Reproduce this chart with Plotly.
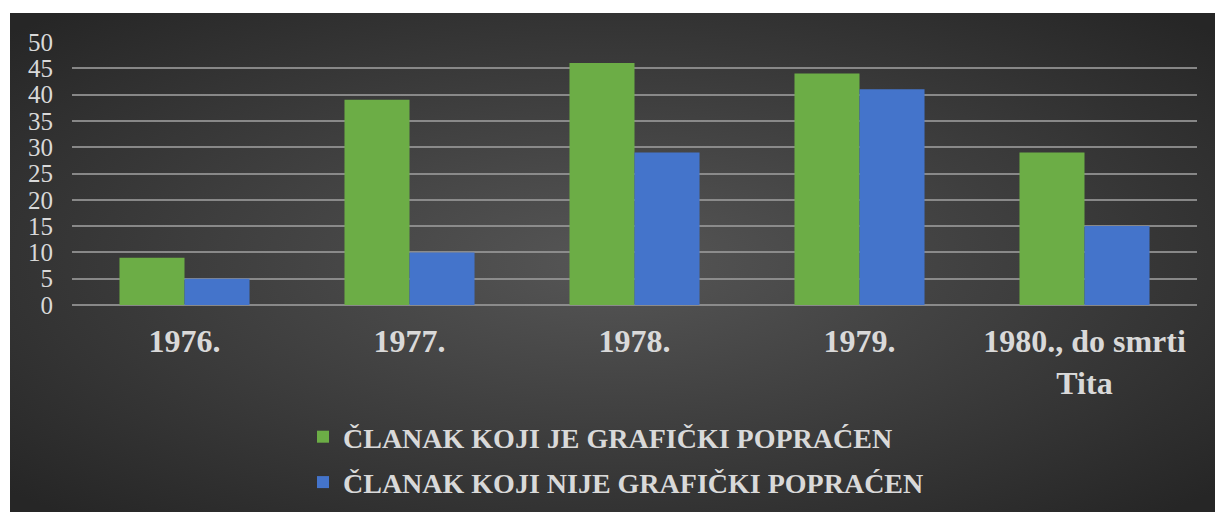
import base64
import plotly.graph_objects as go

categories = ["1976.", "1977.", "1978.", "1979.", "1980., do smrti<br>Tita"]
series_names = ["ČLANAK KOJI JE GRAFIČKI POPRAĆEN", "ČLANAK KOJI NIJE GRAFIČKI POPRAĆEN"]
graficki = [9, 39, 46, 44, 29]
nije_graficki = [5, 10, 29, 41, 15]
y_ticks = [0, 5, 10, 15, 20, 25, 30, 35, 40, 45, 50]

FONT = "Liberation Serif"
TEXT = "#d9d9d9"

svg = (
    '<svg xmlns="http://www.w3.org/2000/svg" width="1205" height="499" viewBox="0 0 1205 499" preserveAspectRatio="none">'
    '<defs><radialGradient id="g" cx="50%" cy="50%" r="68%">'
    '<stop offset="0%" stop-color="#565656"/>'
    '<stop offset="100%" stop-color="#262626"/>'
    '</radialGradient></defs>'
    '<rect width="1205" height="499" fill="url(#g)"/></svg>'
)
bg_src = "data:image/svg+xml;base64," + base64.b64encode(svg.encode()).decode()

fig = go.Figure()
fig.add_trace(go.Bar(x=categories, y=graficki, name=series_names[0], legendgroup="a",
                     marker=dict(color="#6cad46", line=dict(width=0))))
fig.add_trace(go.Bar(x=categories, y=nije_graficki, name=series_names[1], legendgroup="b",
                     marker=dict(color="#4474cb", line=dict(width=0))))

# plot area: x 72..1197, y 42..305
L, R, T, B = 72, 1197, 42, 305
W, H = R - L, B - T
px = lambda x: (x - L) / W
py = lambda y: (B - y) / H

fig.update_layout(
    width=1215, height=512,
    margin=dict(l=L, r=1215 - R, t=T, b=512 - B, pad=0, autoexpand=False),
    paper_bgcolor="white",
    plot_bgcolor="rgba(0,0,0,0)",
    barmode="group", bargap=0.422, bargroupgap=0,
    font=dict(family=FONT, color=TEXT),
    images=[dict(source=bg_src, xref="paper", yref="paper",
                 x=px(10), y=py(13), sizex=px(1215) - px(10), sizey=py(13) - py(512),
                 xanchor="left", yanchor="top", sizing="stretch", layer="below")],
    xaxis=dict(showgrid=False, showline=False, zeroline=False, ticks="",
               ticklabelstandoff=14, automargin=False,
               tickfont=dict(family=FONT, size=32, color=TEXT, weight="bold")),
    yaxis=dict(range=[0, 50], tickvals=y_ticks, showgrid=True, automargin=False,
               gridcolor="rgba(150,150,150,0.85)", gridwidth=1.5,
               zeroline=True, zerolinecolor="rgba(150,150,150,0.85)", zerolinewidth=1.5,
               showline=False, ticks="", ticklabelstandoff=18,
               tickfont=dict(family=FONT, size=25, color=TEXT)),
    legend=dict(orientation="v", x=px(303), xanchor="left", y=py(412), yanchor="top",
                traceorder="grouped", tracegroupgap=6, bgcolor="rgba(0,0,0,0)",
                font=dict(family=FONT, size=28, color=TEXT, weight="bold")),
    showlegend=True,
)

fig.write_html("out.html", config={"displayModeBar": False},
               post_script="document.body.style.margin='0';document.body.style.overflow='hidden';")
